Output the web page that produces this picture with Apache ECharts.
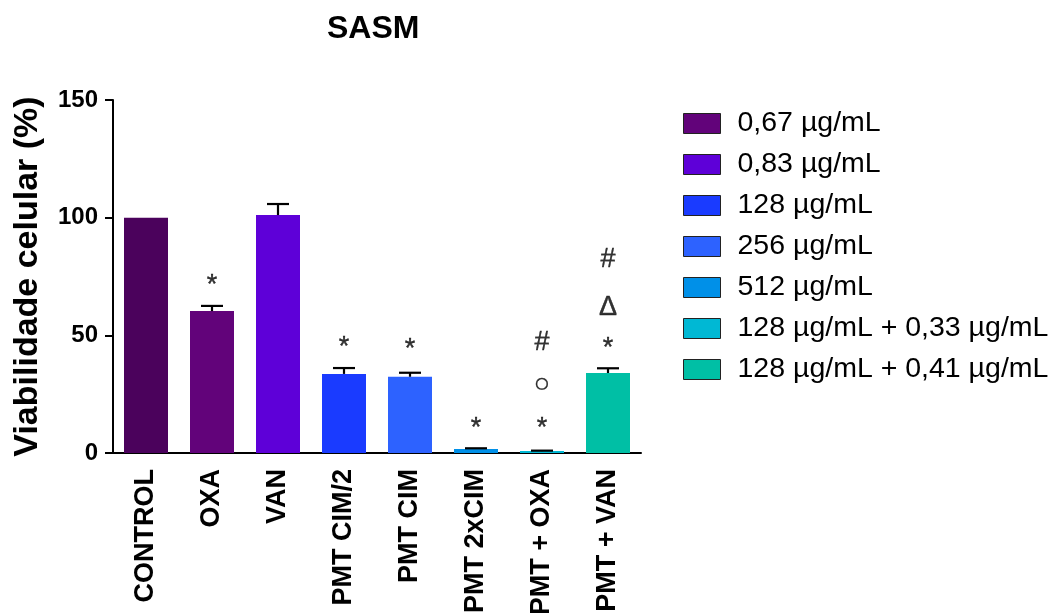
<!DOCTYPE html>
<html>
<head>
<meta charset="utf-8">
<script src="https://cdn.jsdelivr.net/npm/echarts@6/dist/echarts.min.js"></script>
<style>
  html, body { margin: 0; padding: 0; background: #fff; }
  #chart { width: 1054px; height: 613px; }
</style>
</head>
<body>
<div id="chart"></div>
<script>
// data
var categories = ['CONTROL', 'OXA', 'VAN', 'PMT CIM/2', 'PMT CIM', 'PMT 2xCIM', 'PMT + OXA', 'PMT + VAN'];
var means = [100, 60.3, 101.1, 33.6, 32.4, 1.7, 0.8, 34.0];
var sds = [0, 2.2, 4.7, 2.5, 1.7, 0.3, 0.2, 2.0];
var legendNames = ['CONTROL', '0,67 µg/mL', '0,83 µg/mL', '128 µg/mL', '256 µg/mL', '512 µg/mL',
  '128 µg/mL + 0,33 µg/mL', '128 µg/mL + 0,41 µg/mL'];
var barColors = ['#4B025C', '#62037A', '#5E00D8', '#1A3BFF', '#2D62FF', '#0090E8', '#00B8D4', '#00BFA5'];
// significance marks: [category index, y position, symbol]
var marks = [
  [1, 71, '*'],
  [3, 45, '*'],
  [4, 44, '*'],
  [5, 10.5, '*'],
  [6, 10.5, '*'], [6, 29, '○'], [6, 47, '#'],
  [7, 44.5, '*'], [7, 62, 'Δ'], [7, 82, '#']
];

var FONT = '"Liberation Sans", Arial, sans-serif';
var myChart = echarts.init(document.getElementById('chart'));

var series = [];
for (var i = 0; i < categories.length; i++) {
  var d = categories.map(function (c, j) { return j === i ? means[i] : '-'; });
  series.push({
    name: legendNames[i],
    type: 'bar',
    stack: 'all',
    barWidth: 44,
    itemStyle: { color: barColors[i] },
    data: d
  });
}

// error bars (mean + sd), skipped when sd is 0
series.push({
  type: 'custom',
  z: 5,
  data: means.map(function (m, i) { return [i, m, m + sds[i]]; }),
  renderItem: function (params, api) {
    if (api.value(2) === api.value(1)) return null;
    var lo = api.coord([api.value(0), api.value(1)]);
    var hi = api.coord([api.value(0), api.value(2)]);
    var half = 11;
    var st = { stroke: '#000', lineWidth: 2.2 };
    return {
      type: 'group',
      children: [
        { type: 'line', shape: { x1: lo[0], y1: lo[1], x2: hi[0], y2: hi[1] }, style: st },
        { type: 'line', shape: { x1: hi[0] - half, y1: hi[1], x2: hi[0] + half, y2: hi[1] }, style: st }
      ]
    };
  }
});

// significance symbols
series.push({
  type: 'scatter',
  symbolSize: 0,
  z: 6,
  data: marks.map(function (m) { return { value: [m[0], m[1]], sym: m[2] }; }),
  label: {
    show: true,
    position: 'inside',
    formatter: function (p) { return p.data.sym; },
    color: '#000',
    fontSize: 27,
    fontFamily: FONT,
    textBorderColor: '#000',
    textBorderWidth: 0.4
  }
});

var option = {
  backgroundColor: '#fff',
  animation: false,
  title: {
    text: 'SASM',
    left: 322,
    top: 8,
    textStyle: { fontSize: 32, fontWeight: 'bold', color: '#000', fontFamily: FONT }
  },
  legend: {
    orient: 'vertical',
    left: 678,
    top: 104,
    itemWidth: 37,
    itemHeight: 20,
    itemGap: 12,
    icon: 'rect',
    data: legendNames.slice(1),
    itemStyle: { borderColor: '#222', borderWidth: 1 },
    textStyle: { fontSize: 28.5, lineHeight: 28, color: '#000', fontFamily: FONT, padding: [0, 0, 0, 12] }
  },
  grid: { left: 113, top: 100, width: 528, height: 353, outerBoundsMode: 'none' },
  xAxis: {
    type: 'category',
    data: categories,
    axisLine: { lineStyle: { color: '#000', width: 2 } },
    axisTick: { alignWithLabel: true, length: 10, lineStyle: { color: '#000', width: 2 } },
    axisLabel: {
      rotate: 90,
      margin: 16,
      color: '#000',
      fontSize: 27,
      fontWeight: 'bold',
      fontFamily: FONT
    }
  },
  yAxis: {
    type: 'value',
    min: 0,
    max: 150,
    interval: 50,
    name: 'Viabilidade celular (%)',
    nameLocation: 'middle',
    nameGap: 68,
    nameTextStyle: { fontSize: 34, fontWeight: 'bold', color: '#000', fontFamily: FONT },
    splitLine: { show: false },
    axisLine: { show: true, lineStyle: { color: '#000', width: 2 } },
    axisTick: { show: true, length: 8, lineStyle: { color: '#000', width: 2 } },
    axisLabel: { margin: 15, color: '#000', fontSize: 24, fontWeight: 'bold', fontFamily: FONT }
  },
  series: series
};
myChart.setOption(option);
</script>
</body>
</html>
